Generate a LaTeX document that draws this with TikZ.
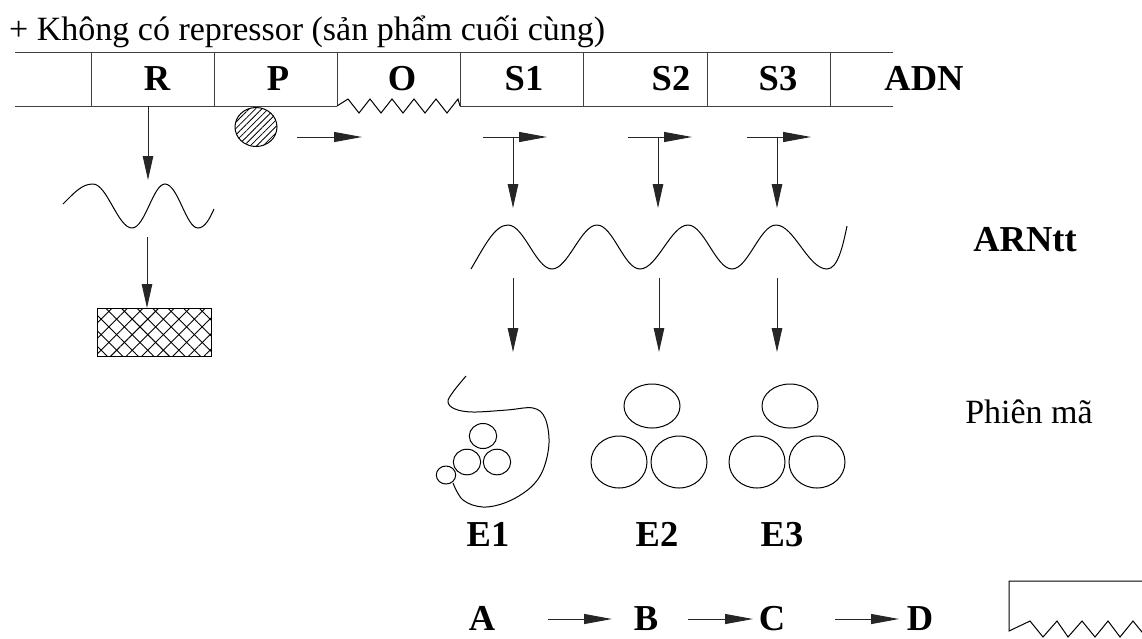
\documentclass[tikz,border=0pt]{standalone}
\usepackage{fontspec}
\setmainfont{Liberation Serif}
\usetikzlibrary{arrows.meta,patterns.meta}

\begin{document}
\begin{tikzpicture}[x=1pt,y=-1pt,
  every node/.style={inner sep=0pt},
  txt/.style={font=\fontsize{34}{40}\selectfont, anchor=base},
  lbl/.style={font=\fontsize{36.5}{42}\selectfont\bfseries, anchor=base},
  strip/.style={draw=black!75, line width=1pt},
  wire/.style={line width=1pt, black!85},
  harr/.style={wire, -{Triangle[length=28pt,width=10pt]}},
  varr/.style={wire, -{Triangle[length=24pt,width=10.5pt]}},
  blob/.style={line width=1pt},
  hatch/.style={pattern={Lines[angle=45,distance=4.5pt,line width=0.8pt]}}
]
\useasboundingbox (0,0) rectangle (1142,638);
\clip (0,0) rectangle (1142,638);

% heading
\node[txt, anchor=base west] (title) at (9,40) {+ Không có repressor (sản phẩm cuối cùng)};

% DNA strip with its gene cells
\draw[strip] (15,52) -- (893,52);
\draw[strip] (15,106) -- (337,106);
\draw[strip] (460,106) -- (893,106);
\foreach \x in {91,214,337,460,583,707,830}
  \draw[strip] (\x,52) -- (\x,106);
% operator site: jagged lower edge
\draw[blob] (337,106) -- (348,99) -- (359,113) -- (370,99) -- (381,113) -- (392,99)
  -- (403,113) -- (414,99) -- (425,113) -- (436,99) -- (447,113) -- (458,99) -- (460,106);

\node[lbl] (R)   at (157,90) {R};
\node[lbl] (P)   at (278,90) {P};
\node[lbl] (O)   at (402,90) {O};
\node[lbl] (S1)  at (524,90) {S1};
\node[lbl] (S2)  at (671,90) {S2};
\node[lbl] (S3)  at (778,90) {S3};
\node[lbl] (ADN) at (924,90) {ADN};

% RNA polymerase on the promoter
\draw[blob, hatch] (256,127) ellipse [x radius=21pt, y radius=19.5pt];
\coordinate (pa) at (297,137);
\coordinate (pb) at (362,137);
\draw[harr] (pa) -- (pb);

% regulator gene: mRNA and repressor protein
\coordinate (r0) at (148,106);
\coordinate (r1) at (148,180);
\draw[varr] (r0) -- (r1);
\draw[blob] (63,204) .. controls (75,192) and (82,184) .. (93,184)
  .. controls (107,184) and (118,228) .. (132,228)
  .. controls (145,228) and (153,184) .. (165,184)
  .. controls (178,184) and (186,228) .. (198,228)
  .. controls (205,228) and (210,218) .. (214,209);
\coordinate (r2) at (147,237);
\coordinate (r3) at (147,308);
\draw[varr] (r2) -- (r3);
\path[pattern={Lines[angle=45,distance=11pt,line width=0.9pt]}] (97,308) rectangle (211,356);
\path[pattern={Lines[angle=-45,distance=11pt,line width=0.9pt]}] (97,308) rectangle (211,356);
\draw[blob] (97,308) rectangle (211,356);

% transcription start marks over the structural genes
\foreach \v/\n in {513/a,658/b,777/c}{
  \coordinate (h\n) at (\v-30,137);
  \coordinate (t\n) at (\v+34,137);
  \coordinate (k\n) at (\v,137);
  \coordinate (d\n) at (\v,208);
  \draw[harr] (h\n) -- (t\n);
  \draw[varr] (k\n) -- (d\n);
}

% polycistronic mRNA
\draw[blob] (471,269) .. controls (485,245) and (495,225) .. (508,225)
  .. controls (524,225) and (536,269) .. (552,269)
  .. controls (568,269) and (581,225) .. (597,225)
  .. controls (613,225) and (624,269) .. (640,269)
  .. controls (657,269) and (671,225) .. (688,225)
  .. controls (704,225) and (716,269) .. (732,269)
  .. controls (748,269) and (760,225) .. (776,225)
  .. controls (794,225) and (808,269) .. (827,269)
  .. controls (838,269) and (843,245) .. (847,226);
\node[lbl] (arn) at (1025,251) {ARNtt};

\foreach \v/\n in {513/a,659/b,777/c}{
  \coordinate (m\n) at (\v,278);
  \coordinate (e\n) at (\v,352);
  \draw[varr] (m\n) -- (e\n);
}

% enzyme E1
\draw[blob] plot[smooth, tension=0.6] coordinates {
  (466,376) (453,392) (448,402) (455,409) (473,412) (507,410) (533,408)
  (545,418) (549,443) (543,470) (530,488) (507,502) (483,507) (463,500) (453,483)};
\draw[blob] (483,436) ellipse [x radius=13.7pt, y radius=12.5pt];
\draw[blob] (467,462) ellipse [x radius=13.7pt, y radius=12.8pt];
\draw[blob] (497,462) ellipse [x radius=13.7pt, y radius=12.8pt];
\draw[blob] (446,475) ellipse [x radius=9.7pt, y radius=9pt];

% enzymes E2 and E3
\foreach \c in {0,138}{
  \draw[blob] (652+\c,406) ellipse [x radius=28pt, y radius=22pt];
  \draw[blob] (619+\c,462) ellipse [x radius=28pt, y radius=26pt];
  \draw[blob] (679+\c,462) ellipse [x radius=28pt, y radius=26pt];
}

\node[txt] (pm) at (1029,423) {Phiên mã};
\node[lbl] (E1) at (488,546) {E1};
\node[lbl] (E2) at (657,546) {E2};
\node[lbl] (E3) at (782,546) {E3};

% metabolic pathway
\node[lbl] (A) at (482,630) {A};
\node[lbl] (B) at (646,630) {B};
\node[lbl] (C) at (772,630) {C};
\node[lbl] (D) at (920,630) {D};
\coordinate (ab0) at (548,619); \coordinate (ab1) at (612,619);
\coordinate (bc0) at (688,619); \coordinate (bc1) at (753,619);
\coordinate (cd0) at (835,619); \coordinate (cd1) at (899,619);
\draw[harr] (ab0) -- (ab1);
\draw[harr] (bc0) -- (bc1);
\draw[harr] (cd0) -- (cd1);

% partial shape at the lower right edge
\draw[blob] (1150,581) -- (1009,581) -- (1009,631) -- (1030,621) -- (1043,637)
  -- (1057,621) -- (1068,637) -- (1082,621) -- (1095,637) -- (1108,621)
  -- (1120,637) -- (1133,621) -- (1146,637);
\end{tikzpicture}
\end{document}
